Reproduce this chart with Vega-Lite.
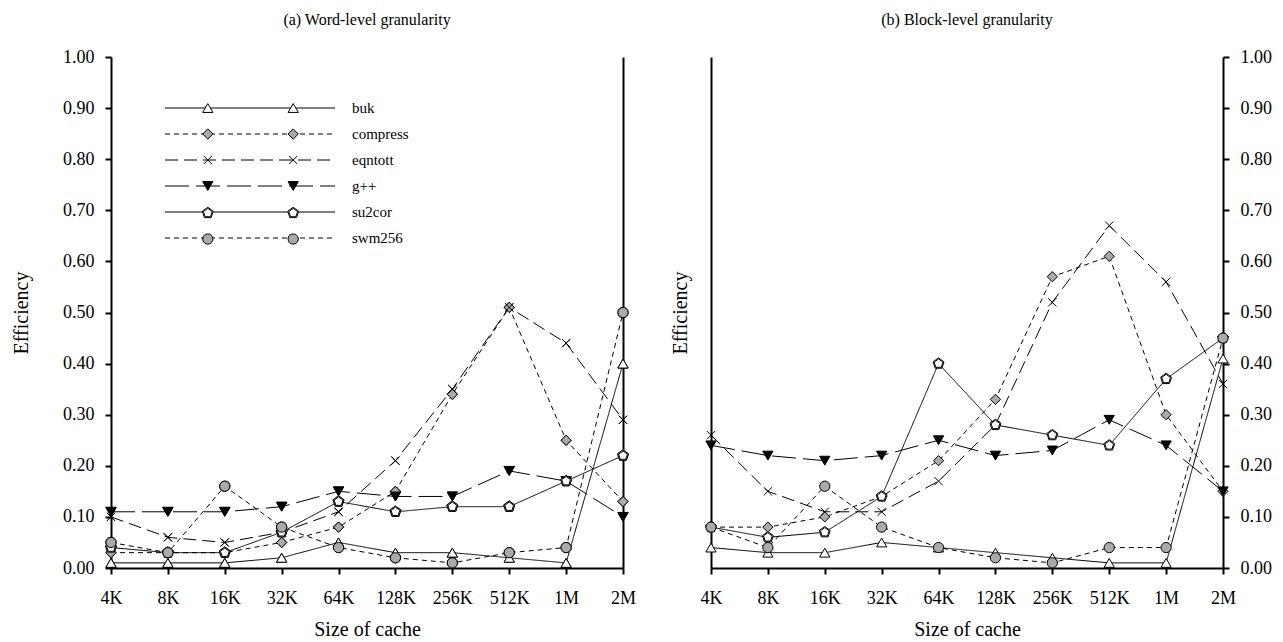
{
  "$schema": "https://vega.github.io/schema/vega-lite/v6.json",
  "background": "white",
  "padding": {"left": 11, "top": 12, "right": 8, "bottom": 0},
  "datasets": {
    "word": [
      {"size": "4K", "series": "buk", "eff": 0.01}, {"size": "8K", "series": "buk", "eff": 0.01}, {"size": "16K", "series": "buk", "eff": 0.01}, {"size": "32K", "series": "buk", "eff": 0.02}, {"size": "64K", "series": "buk", "eff": 0.05}, {"size": "128K", "series": "buk", "eff": 0.03}, {"size": "256K", "series": "buk", "eff": 0.03}, {"size": "512K", "series": "buk", "eff": 0.02}, {"size": "1M", "series": "buk", "eff": 0.01}, {"size": "2M", "series": "buk", "eff": 0.40},
      {"size": "4K", "series": "compress", "eff": 0.03}, {"size": "8K", "series": "compress", "eff": 0.03}, {"size": "16K", "series": "compress", "eff": 0.03}, {"size": "32K", "series": "compress", "eff": 0.05}, {"size": "64K", "series": "compress", "eff": 0.08}, {"size": "128K", "series": "compress", "eff": 0.15}, {"size": "256K", "series": "compress", "eff": 0.34}, {"size": "512K", "series": "compress", "eff": 0.51}, {"size": "1M", "series": "compress", "eff": 0.25}, {"size": "2M", "series": "compress", "eff": 0.13},
      {"size": "4K", "series": "eqntott", "eff": 0.10}, {"size": "8K", "series": "eqntott", "eff": 0.06}, {"size": "16K", "series": "eqntott", "eff": 0.05}, {"size": "32K", "series": "eqntott", "eff": 0.07}, {"size": "64K", "series": "eqntott", "eff": 0.11}, {"size": "128K", "series": "eqntott", "eff": 0.21}, {"size": "256K", "series": "eqntott", "eff": 0.35}, {"size": "512K", "series": "eqntott", "eff": 0.51}, {"size": "1M", "series": "eqntott", "eff": 0.44}, {"size": "2M", "series": "eqntott", "eff": 0.29},
      {"size": "4K", "series": "g++", "eff": 0.11}, {"size": "8K", "series": "g++", "eff": 0.11}, {"size": "16K", "series": "g++", "eff": 0.11}, {"size": "32K", "series": "g++", "eff": 0.12}, {"size": "64K", "series": "g++", "eff": 0.15}, {"size": "128K", "series": "g++", "eff": 0.14}, {"size": "256K", "series": "g++", "eff": 0.14}, {"size": "512K", "series": "g++", "eff": 0.19}, {"size": "1M", "series": "g++", "eff": 0.17}, {"size": "2M", "series": "g++", "eff": 0.10},
      {"size": "4K", "series": "su2cor", "eff": 0.04}, {"size": "8K", "series": "su2cor", "eff": 0.03}, {"size": "16K", "series": "su2cor", "eff": 0.03}, {"size": "32K", "series": "su2cor", "eff": 0.07}, {"size": "64K", "series": "su2cor", "eff": 0.13}, {"size": "128K", "series": "su2cor", "eff": 0.11}, {"size": "256K", "series": "su2cor", "eff": 0.12}, {"size": "512K", "series": "su2cor", "eff": 0.12}, {"size": "1M", "series": "su2cor", "eff": 0.17}, {"size": "2M", "series": "su2cor", "eff": 0.22},
      {"size": "4K", "series": "swm256", "eff": 0.05}, {"size": "8K", "series": "swm256", "eff": 0.03}, {"size": "16K", "series": "swm256", "eff": 0.16}, {"size": "32K", "series": "swm256", "eff": 0.08}, {"size": "64K", "series": "swm256", "eff": 0.04}, {"size": "128K", "series": "swm256", "eff": 0.02}, {"size": "256K", "series": "swm256", "eff": 0.01}, {"size": "512K", "series": "swm256", "eff": 0.03}, {"size": "1M", "series": "swm256", "eff": 0.04}, {"size": "2M", "series": "swm256", "eff": 0.50}
    ],
    "block": [
      {"size": "4K", "series": "buk", "eff": 0.04}, {"size": "8K", "series": "buk", "eff": 0.03}, {"size": "16K", "series": "buk", "eff": 0.03}, {"size": "32K", "series": "buk", "eff": 0.05}, {"size": "64K", "series": "buk", "eff": 0.04}, {"size": "128K", "series": "buk", "eff": 0.03}, {"size": "256K", "series": "buk", "eff": 0.02}, {"size": "512K", "series": "buk", "eff": 0.01}, {"size": "1M", "series": "buk", "eff": 0.01}, {"size": "2M", "series": "buk", "eff": 0.41},
      {"size": "4K", "series": "compress", "eff": 0.08}, {"size": "8K", "series": "compress", "eff": 0.08}, {"size": "16K", "series": "compress", "eff": 0.10}, {"size": "32K", "series": "compress", "eff": 0.14}, {"size": "64K", "series": "compress", "eff": 0.21}, {"size": "128K", "series": "compress", "eff": 0.33}, {"size": "256K", "series": "compress", "eff": 0.57}, {"size": "512K", "series": "compress", "eff": 0.61}, {"size": "1M", "series": "compress", "eff": 0.30}, {"size": "2M", "series": "compress", "eff": 0.15},
      {"size": "4K", "series": "eqntott", "eff": 0.26}, {"size": "8K", "series": "eqntott", "eff": 0.15}, {"size": "16K", "series": "eqntott", "eff": 0.11}, {"size": "32K", "series": "eqntott", "eff": 0.11}, {"size": "64K", "series": "eqntott", "eff": 0.17}, {"size": "128K", "series": "eqntott", "eff": 0.28}, {"size": "256K", "series": "eqntott", "eff": 0.52}, {"size": "512K", "series": "eqntott", "eff": 0.67}, {"size": "1M", "series": "eqntott", "eff": 0.56}, {"size": "2M", "series": "eqntott", "eff": 0.36},
      {"size": "4K", "series": "g++", "eff": 0.24}, {"size": "8K", "series": "g++", "eff": 0.22}, {"size": "16K", "series": "g++", "eff": 0.21}, {"size": "32K", "series": "g++", "eff": 0.22}, {"size": "64K", "series": "g++", "eff": 0.25}, {"size": "128K", "series": "g++", "eff": 0.22}, {"size": "256K", "series": "g++", "eff": 0.23}, {"size": "512K", "series": "g++", "eff": 0.29}, {"size": "1M", "series": "g++", "eff": 0.24}, {"size": "2M", "series": "g++", "eff": 0.15},
      {"size": "4K", "series": "su2cor", "eff": 0.08}, {"size": "8K", "series": "su2cor", "eff": 0.06}, {"size": "16K", "series": "su2cor", "eff": 0.07}, {"size": "32K", "series": "su2cor", "eff": 0.14}, {"size": "64K", "series": "su2cor", "eff": 0.40}, {"size": "128K", "series": "su2cor", "eff": 0.28}, {"size": "256K", "series": "su2cor", "eff": 0.26}, {"size": "512K", "series": "su2cor", "eff": 0.24}, {"size": "1M", "series": "su2cor", "eff": 0.37}, {"size": "2M", "series": "su2cor", "eff": 0.45},
      {"size": "4K", "series": "swm256", "eff": 0.08}, {"size": "8K", "series": "swm256", "eff": 0.04}, {"size": "16K", "series": "swm256", "eff": 0.16}, {"size": "32K", "series": "swm256", "eff": 0.08}, {"size": "64K", "series": "swm256", "eff": 0.04}, {"size": "128K", "series": "swm256", "eff": 0.02}, {"size": "256K", "series": "swm256", "eff": 0.01}, {"size": "512K", "series": "swm256", "eff": 0.04}, {"size": "1M", "series": "swm256", "eff": 0.04}, {"size": "2M", "series": "swm256", "eff": 0.45}
    ]
  },
  "spacing": 34,
  "resolve": {"scale": {"shape": "independent", "fill": "independent", "strokeDash": "independent"}},
  "hconcat": [
    {
      "title": "(a) Word-level granularity",
      "width": 512,
      "height": 511,
      "data": {"name": "word"},
      "layer": [
        {
          "mark": {"type": "line", "color": "black", "strokeWidth": 1},
          "encoding": {
            "x": {"field": "size", "type": "ordinal", "scale": {"type": "point", "padding": 0, "domain": ["4K", "8K", "16K", "32K", "64K", "128K", "256K", "512K", "1M", "2M"]}, "axis": {"title": "Size of cache", "labelAngle": 0}},
            "y": {"field": "eff", "type": "quantitative", "scale": {"domain": [0, 1], "nice": false}, "axis": {"orient": "left", "title": "Efficiency", "values": [0, 0.1, 0.2, 0.3, 0.4, 0.5, 0.6, 0.7, 0.8, 0.9, 1], "format": ".2f", "titlePadding": 31}},
            "strokeDash": {"field": "series", "type": "nominal", "scale": {"range": [[1, 0], [5, 4], [13, 6], [24, 7], [1, 0], [5, 4]]},
              "legend": {"orient": "none", "legendX": 131.5, "legendY": 43.5, "title": null, "padding": 0, "symbolType": "M-17,0H17", "symbolSize": 100, "symbolStrokeWidth": 1, "symbolStrokeColor": "black", "symbolFillColor": "transparent", "labelFont": "Liberation Serif", "labelFontSize": 15, "labelColor": "black", "labelOffset": 94.5, "rowPadding": 10, "zindex": 1}}
          }
        },
        {
          "mark": {"type": "point", "filled": true, "opacity": 1, "stroke": "black", "strokeWidth": 1, "size": 105},
          "encoding": {
            "x": {"field": "size", "type": "ordinal", "scale": {"type": "point", "padding": 0, "domain": ["4K", "8K", "16K", "32K", "64K", "128K", "256K", "512K", "1M", "2M"]}, "axis": {"title": "Size of cache", "labelAngle": 0}},
            "y": {"field": "eff", "type": "quantitative", "scale": {"domain": [0, 1], "nice": false}, "axis": {"orient": "right", "title": null, "labels": false, "ticks": false, "values": [0, 0.1, 0.2, 0.3, 0.4, 0.5, 0.6, 0.7, 0.8, 0.9, 1]}},
            "shape": {"field": "series", "type": "nominal",
              "scale": {"domain": ["buk", "compress", "eqntott", "g++", "su2cor", "swm256"], "range": ["triangle-up", "diamond", "M-0.8,-0.8L0.8,0.8M-0.8,0.8L0.8,-0.8", "triangle-down", "M0,-1.12L1.065,-0.346L0.658,0.906L-0.658,0.906L-1.065,-0.346Z M0,-0.9L0.856,-0.278L0.529,0.728L-0.529,0.728L-0.856,-0.278Z", "circle"]},
              "legend": {"orient": "none", "legendX": 89.3, "legendY": 43.5, "title": null, "padding": 0, "symbolSize": 105, "symbolStrokeWidth": 1, "symbolStrokeColor": "black", "labelFont": "Liberation Serif", "labelFontSize": 15, "labelColor": "black", "labelExpr": "' '", "labelOffset": 94.5, "rowPadding": 10, "zindex": 2, "encoding": {"symbols": {"stroke": {"value": "black"}, "strokeWidth": {"value": 1}}}}},
            "fill": {"field": "series", "type": "nominal",
              "scale": {"domain": ["buk", "compress", "eqntott", "g++", "su2cor", "swm256"], "range": ["white", "#aaaaaa", "black", "black", "white", "#aaaaaa"]},
              "legend": {"orient": "none", "legendX": 89.3, "legendY": 43.5, "title": null, "padding": 0, "symbolSize": 105, "symbolStrokeWidth": 1, "symbolStrokeColor": "black", "labelFont": "Liberation Serif", "labelFontSize": 15, "labelColor": "black", "labelExpr": "' '", "labelOffset": 94.5, "rowPadding": 10, "zindex": 2, "encoding": {"symbols": {"stroke": {"value": "black"}, "strokeWidth": {"value": 1}}}}}
          }
        },
        {
          "mark": {"type": "point", "filled": true, "opacity": 1, "stroke": "black", "strokeWidth": 1, "size": 105},
          "encoding": {
            "x": {"field": "size", "type": "ordinal", "scale": {"type": "point", "padding": 0, "domain": ["4K", "8K", "16K", "32K", "64K", "128K", "256K", "512K", "1M", "2M"]}, "axis": {"title": "Size of cache", "labelAngle": 0}},
            "y": {"field": "eff", "type": "quantitative", "scale": {"domain": [0, 1], "nice": false}, "axis": null},
            "shape": {"field": "series", "type": "nominal",
              "scale": {"domain": ["buk", "compress", "eqntott", "g++", "su2cor", "swm256"], "range": ["triangle-up", "diamond", "M-0.8,-0.8L0.8,0.8M-0.8,0.8L0.8,-0.8", "triangle-down", "M0,-1.12L1.065,-0.346L0.658,0.906L-0.658,0.906L-1.065,-0.346Z M0,-0.9L0.856,-0.278L0.529,0.728L-0.529,0.728L-0.856,-0.278Z", "circle"]},
              "legend": {"orient": "none", "legendX": 174.7, "legendY": 43.5, "title": null, "padding": 0, "symbolSize": 105, "symbolStrokeWidth": 1, "symbolStrokeColor": "black", "labelFont": "Liberation Serif", "labelFontSize": 15, "labelColor": "black", "labelExpr": "' '", "labelOffset": 94.5, "rowPadding": 10, "zindex": 2, "encoding": {"symbols": {"stroke": {"value": "black"}, "strokeWidth": {"value": 1}}}}},
            "fill": {"field": "series", "type": "nominal",
              "scale": {"domain": ["buk", "compress", "eqntott", "g++", "su2cor", "swm256"], "range": ["white", "#aaaaaa", "black", "black", "white", "#aaaaaa"]},
              "legend": {"orient": "none", "legendX": 174.7, "legendY": 43.5, "title": null, "padding": 0, "symbolSize": 105, "symbolStrokeWidth": 1, "symbolStrokeColor": "black", "labelFont": "Liberation Serif", "labelFontSize": 15, "labelColor": "black", "labelExpr": "' '", "labelOffset": 94.5, "rowPadding": 10, "zindex": 2, "encoding": {"symbols": {"stroke": {"value": "black"}, "strokeWidth": {"value": 1}}}}}
          }
        }
      ],
      "resolve": {"scale": {"shape": "independent", "fill": "independent"}, "axis": {"y": "independent"}}
    },
    {
      "title": "(b) Block-level granularity",
      "width": 512,
      "height": 511,
      "data": {"name": "block"},
      "layer": [
        {
          "mark": {"type": "line", "color": "black", "strokeWidth": 1},
          "encoding": {
            "x": {"field": "size", "type": "ordinal", "scale": {"type": "point", "padding": 0, "domain": ["4K", "8K", "16K", "32K", "64K", "128K", "256K", "512K", "1M", "2M"]}, "axis": {"title": "Size of cache", "labelAngle": 0}},
            "y": {"field": "eff", "type": "quantitative", "scale": {"domain": [0, 1], "nice": false}, "axis": {"orient": "left", "title": "Efficiency", "labels": false, "ticks": false, "values": [0, 0.1, 0.2, 0.3, 0.4, 0.5, 0.6, 0.7, 0.8, 0.9, 1], "titlePadding": 21}},
            "strokeDash": {"field": "series", "type": "nominal", "scale": {"range": [[1, 0], [5, 4], [13, 6], [24, 7], [1, 0], [5, 4]]}, "legend": null}
          }
        },
        {
          "mark": {"type": "point", "filled": true, "opacity": 1, "stroke": "black", "strokeWidth": 1, "size": 105},
          "encoding": {
            "x": {"field": "size", "type": "ordinal", "scale": {"type": "point", "padding": 0, "domain": ["4K", "8K", "16K", "32K", "64K", "128K", "256K", "512K", "1M", "2M"]}, "axis": {"title": "Size of cache", "labelAngle": 0}},
            "y": {"field": "eff", "type": "quantitative", "scale": {"domain": [0, 1], "nice": false}, "axis": {"orient": "right", "title": null, "values": [0, 0.1, 0.2, 0.3, 0.4, 0.5, 0.6, 0.7, 0.8, 0.9, 1], "format": ".2f"}},
            "shape": {"field": "series", "type": "nominal",
              "scale": {"domain": ["buk", "compress", "eqntott", "g++", "su2cor", "swm256"], "range": ["triangle-up", "diamond", "M-0.8,-0.8L0.8,0.8M-0.8,0.8L0.8,-0.8", "triangle-down", "M0,-1.12L1.065,-0.346L0.658,0.906L-0.658,0.906L-1.065,-0.346Z M0,-0.9L0.856,-0.278L0.529,0.728L-0.529,0.728L-0.856,-0.278Z", "circle"]}, "legend": null},
            "fill": {"field": "series", "type": "nominal",
              "scale": {"domain": ["buk", "compress", "eqntott", "g++", "su2cor", "swm256"], "range": ["white", "#aaaaaa", "black", "black", "white", "#aaaaaa"]}, "legend": null}
          }
        }
      ],
      "resolve": {"axis": {"y": "independent"}}
    }
  ],
  "config": {
    "font": "Liberation Serif",
    "view": {"stroke": null},
    "axis": {"domainColor": "black", "domainWidth": 2, "tickColor": "black", "tickWidth": 2, "tickSize": 6, "labelFont": "Liberation Serif", "labelFontSize": 18, "labelColor": "black", "titleFont": "Liberation Serif", "titleFontSize": 20, "titleFontWeight": "normal", "titleColor": "black", "grid": false},
    "axisX": {"labelPadding": 15, "titlePadding": 12},
    "axisY": {"labelPadding": 11},
    "title": {"font": "Liberation Serif", "fontSize": 16, "fontWeight": "normal", "color": "black", "offset": 20}
  }
}
